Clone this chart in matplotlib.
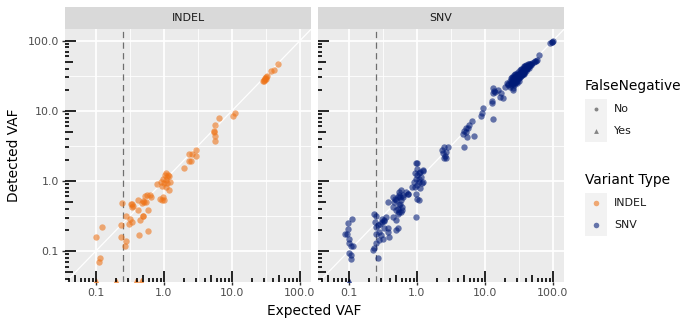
import numpy as np
import matplotlib
matplotlib.use("Agg")
import matplotlib.pyplot as plt
from matplotlib.patches import Rectangle

# ---- data ----
# INDEL: expected VAF, detected VAF
indel_x = [47, 41.5, 38, 33, 32, 31, 30.5, 29.5, 28.8, 31.5, 30,
           11, 10.3, 6.4, 5.6, 5.4, 5.5, 5.6, 5.7,
           3.0, 2.3, 2.6, 2.95, 2.3, 2.5, 2.0,
           1.09, 1.03, 1.16, 1.12, 1.19, 0.98, 1.07, 0.92, 1.0, 1.12, 1.22, 0.78,
           0.95, 1.07, 1.19, 0.89, 0.98, 1.0, 0.94,
           0.556, 0.53, 0.51, 0.49, 0.54, 0.47, 0.62, 0.347, 0.33, 0.42, 0.50,
           0.59, 0.43, 0.59, 0.64, 0.42,
           0.239, 0.335, 0.34, 0.276, 0.231, 0.316, 0.335, 0.31, 0.44, 0.5,
           0.231, 0.28, 0.27, 0.121, 0.1, 0.115, 0.11]
indel_y = [46, 38, 37, 31.5, 30.6, 29, 28.1, 27.5, 26.5, 28.5, 27,
           9.2, 8.4, 7.8, 6.2, 5.1, 4.9, 4.3, 3.7,
           2.8, 2.45, 2.4, 2.3, 1.93, 1.9, 1.55,
           1.28, 1.2, 1.23, 1.12, 1.17, 1.08, 1.02, 0.97, 0.92, 0.92, 0.95, 0.90,
           0.84, 0.81, 0.74, 0.56, 0.58, 0.54, 0.54,
           0.625, 0.60, 0.50, 0.52, 0.50, 0.49, 0.625, 0.44, 0.47, 0.39, 0.32,
           0.38, 0.17, 0.19, 0.59, 0.53,
           0.485, 0.465, 0.425, 0.32, 0.238, 0.29, 0.26, 0.24, 0.275, 0.32,
           0.158, 0.139, 0.118, 0.22, 0.158, 0.079, 0.07]
indel_fn_x = [0.1, 0.2, 0.39, 0.455]   # false negatives (detected = 0)

# SNV: expected VAF, detected VAF
snv_x = [91, 96, 100, 98, 63,
         22, 23, 24, 24, 25, 25, 26, 26, 27, 27, 27, 28, 28, 28, 29, 29, 29,
         30, 30, 30, 30, 31, 31, 31, 32, 32, 32, 32, 33, 33, 33, 34, 34, 34,
         35, 35, 35, 36, 36, 36, 37, 37, 38, 38, 38, 39, 40, 40, 40, 41, 42,
         42, 43, 44, 45, 45, 46, 47, 48, 50, 52, 54, 56, 58, 26, 24, 29, 35,
         38, 44, 23, 25, 28, 31, 34, 37, 40, 43, 21, 27, 33, 39,
         13.2, 14, 15.6, 17.5, 19.6, 22, 24.7, 16.6, 18.5, 13.2, 26, 26, 13.6,
         12.7, 12.5,
         9.4, 9.2, 8.9, 13.2, 6.5, 5.9, 5.6, 5.3, 4.8, 5.4, 6.8, 4.9,
         2.54, 2.85, 2.35, 2.69, 2.4, 2.63, 2.46, 2.69, 5.3, 4.9,
         0.97, 0.99, 0.95, 1.01, 1.07, 1.11, 1.13, 1.06, 0.97, 0.92, 1.07, 1.01,
         0.95, 1.18, 1.22, 0.86, 1.12, 0.97, 1.01, 1.07, 0.97, 0.69, 0.62, 0.73,
         1.22, 1.22, 0.99,
         0.537, 0.55, 0.52, 0.49, 0.46, 0.56, 0.6, 0.52, 0.49, 0.55, 0.58, 0.48,
         0.44, 0.63, 0.73, 0.38, 0.44, 0.58, 0.52, 0.49, 0.45, 0.35, 0.33, 0.31,
         0.52, 0.49, 0.38, 0.58, 0.56, 0.6, 0.55,
         0.234, 0.248, 0.243, 0.248, 0.27, 0.29, 0.31, 0.33, 0.28, 0.248, 0.30,
         0.28, 0.248, 0.226, 0.234, 0.27, 0.33, 0.32, 0.37, 0.39,
         0.112, 0.098, 0.098, 0.087, 0.094, 0.1, 0.1, 0.106, 0.114, 0.1, 0.109,
         0.106]
snv_y = [92, 97, 100, 95, 62.5,
         24, 22, 26, 23, 25, 28, 24, 27, 26, 29, 23, 27, 30, 25, 28, 31, 26,
         29, 27, 32, 25, 30, 28, 33, 31, 29, 34, 27, 32, 30, 35, 33, 31, 36,
         34, 32, 37, 35, 33, 38, 36, 34, 37, 35, 40, 38, 39, 37, 42, 40, 41,
         44, 42, 43, 44, 41, 46, 45, 47, 48, 50, 51, 52, 53, 30, 29, 33, 40,
         44, 47, 27, 30, 33, 36, 39, 42, 45, 47, 25, 32, 38, 43,
         20.9, 18.7, 19.8, 17.7, 22, 23.3, 24.6, 15.8, 15, 17.7, 19.8, 21, 19.0,
         13, 14,
         10.8, 9.2, 8.5, 7.6, 7.2, 6.25, 5.6, 5.0, 4.6, 4.17, 4.4, 3.06,
         3.06, 3.0, 2.75, 2.6, 2.46, 2.25, 2.09, 2.09, 5.6, 5.2,
         1.81, 1.5, 1.28, 1.2, 1.28, 1.35, 1.14, 1.05, 1.07, 0.97, 0.97, 0.87,
         0.82, 0.92, 1.42, 0.82, 0.78, 0.66, 0.56, 0.54, 0.306, 0.70, 0.625, 0.66,
         1.40, 0.97, 1.77,
         0.70, 0.625, 0.59, 0.53, 0.5, 0.475, 0.425, 0.40, 0.38, 0.45, 0.53, 0.56,
         0.59, 0.59, 0.66, 0.50, 0.425, 0.36, 0.34, 0.275, 0.31, 0.31, 0.28, 0.26,
         0.21, 0.197, 0.216, 0.73, 0.59, 0.38, 0.36,
         0.342, 0.32, 0.26, 0.22, 0.233, 0.245, 0.29, 0.27, 0.187, 0.177, 0.168,
         0.142, 0.128, 0.102, 0.11, 0.08, 0.21, 0.15, 0.187, 0.158,
         0.29, 0.25, 0.209, 0.177, 0.177, 0.15, 0.128, 0.117, 0.117, 0.092, 0.087,
         0.078]
snv_fn_x = [0.1]

panels = ["INDEL", "SNV"]
colors = {"INDEL": "#EE7317", "SNV": "#001A77"}
threshold = 0.25
xlim = (10 ** -1.455, 10 ** 2.163)
ylim = (10 ** -1.443, 10 ** 2.167)
major = [0.1, 1, 10, 100]
major_lab = ["0.1", "1.0", "10.0", "100.0"]
minor = [10 ** -0.5, 10 ** 0.5, 10 ** 1.5]

W, H = 684, 322
fig = plt.figure(figsize=(W / 100, H / 100), dpi=100)

def fr(x0, y0, x1, y1):
    # pixel box -> figure fraction
    return [x0 / W, 1 - y1 / H, (x1 - x0) / W, (y1 - y0) / H]

panel_boxes = [(65, 29, 311, 282), (318, 29, 564, 282)]
data = {"INDEL": (indel_x, indel_y, indel_fn_x), "SNV": (snv_x, snv_y, snv_fn_x)}

for i, (name, box) in enumerate(zip(panels, panel_boxes)):
    ax = fig.add_axes(fr(*box))
    ax.set_facecolor("#EBEBEB")
    for s in ax.spines.values():
        s.set_visible(False)
    ax.set_xscale("log")
    ax.set_yscale("log")
    ax.set_xlim(*xlim)
    ax.set_ylim(*ylim)
    ax.set_xticks(major, major_lab)
    ax.set_yticks(major, major_lab)
    ax.set_xticks(minor, minor=True)
    ax.set_yticks(minor, minor=True)
    ax.xaxis.set_minor_formatter(plt.NullFormatter())
    ax.yaxis.set_minor_formatter(plt.NullFormatter())
    ax.grid(which="major", color="white", lw=1.25)
    ax.grid(which="minor", color="white", lw=0.6)
    ax.set_axisbelow(True)
    ax.tick_params(which="major", direction="out", length=2.5, width=1.0,
                   color="#333333", labelcolor="#4D4D4D", labelsize=7.9, pad=2)
    ax.tick_params(which="minor", length=0)
    if i > 0:
        ax.tick_params(axis="y", which="both", left=False, labelleft=False)

    # reference lines
    ax.axline((1, 1), (10, 10), color="white", lw=0.9, zorder=1.5)
    ax.axvline(threshold, color="#6E6E6E", lw=0.9, ls=(0, (5, 3.5)), zorder=1.6)

    xs, ys, fn = data[name]
    ax.scatter(xs, ys, s=21, color=colors[name], alpha=0.58, lw=0, zorder=3)
    ax.scatter(fn, [ylim[0]] * len(fn), s=45, marker="^", color=colors[name],
               alpha=0.75, lw=0, zorder=3, clip_on=True)

    # log ticks inside the panel (bottom and left)
    hpx = box[3] - box[1]
    wpx = box[2] - box[0]
    for d in range(-2, 3):
        for k in range(1, 10):
            v = k * 10.0 ** d
            L = 11 if k == 1 else (7.5 if k == 5 else 4)
            if xlim[0] < v < xlim[1]:
                ax.plot([v, v], [0, L / hpx], color="black", lw=1.2,
                        transform=ax.get_xaxis_transform(), zorder=4,
                        solid_capstyle="butt", clip_on=False)
            if ylim[0] < v < ylim[1]:
                ax.plot([0, L / wpx], [v, v], color="black", lw=1.2,
                        transform=ax.get_yaxis_transform(), zorder=4,
                        solid_capstyle="butt", clip_on=False)

    # facet strip
    sx = fig.add_axes(fr(box[0], 7, box[2], 29))
    sx.set_facecolor("#D9D9D9")
    sx.set_xticks([])
    sx.set_yticks([])
    for s in sx.spines.values():
        s.set_visible(False)
    sx.text(0.5, 0.5, name, ha="center", va="center", fontsize=7.9,
            color="#1A1A1A", transform=sx.transAxes)

fig.text(314 / W, 1 - 311 / H, "Expected VAF", ha="center", va="center", fontsize=9.9)
fig.text(14 / W, 1 - 155.5 / H, "Detected VAF", ha="center", va="center",
         fontsize=9.9, rotation=90)

# ---- legends (drawn in pixel space) ----
lg = fig.add_axes([0, 0, 1, 1], facecolor="none")
lg.set_xlim(0, W)
lg.set_ylim(H, 0)
lg.axis("off")
key = 21.5

def legend_block(title, ty, labels, styles):
    lg.text(585, ty, title, ha="left", va="center", fontsize=9.9)
    top = ty + 12.5
    for j, (lab, st) in enumerate(zip(labels, styles)):
        y0 = top + j * key
        lg.add_patch(Rectangle((585, y0), key, key, facecolor="#F2F2F2", lw=0))
        lg.scatter([585 + key / 2], [y0 + key / 2], **st)
        lg.text(614, y0 + key / 2, lab, ha="left", va="center", fontsize=7.9,
                color="#1A1A1A")

legend_block("FalseNegative", 86, ["No", "Yes"],
             [dict(s=8, marker="o", color="black", alpha=0.45, lw=0),
              dict(s=12, marker="^", color="black", alpha=0.45, lw=0)])
legend_block("Variant Type", 180, ["INDEL", "SNV"],
             [dict(s=16, marker="o", color=colors["INDEL"], alpha=0.58, lw=0),
              dict(s=16, marker="o", color=colors["SNV"], alpha=0.58, lw=0)])

fig.savefig("out.png", dpi=100)
